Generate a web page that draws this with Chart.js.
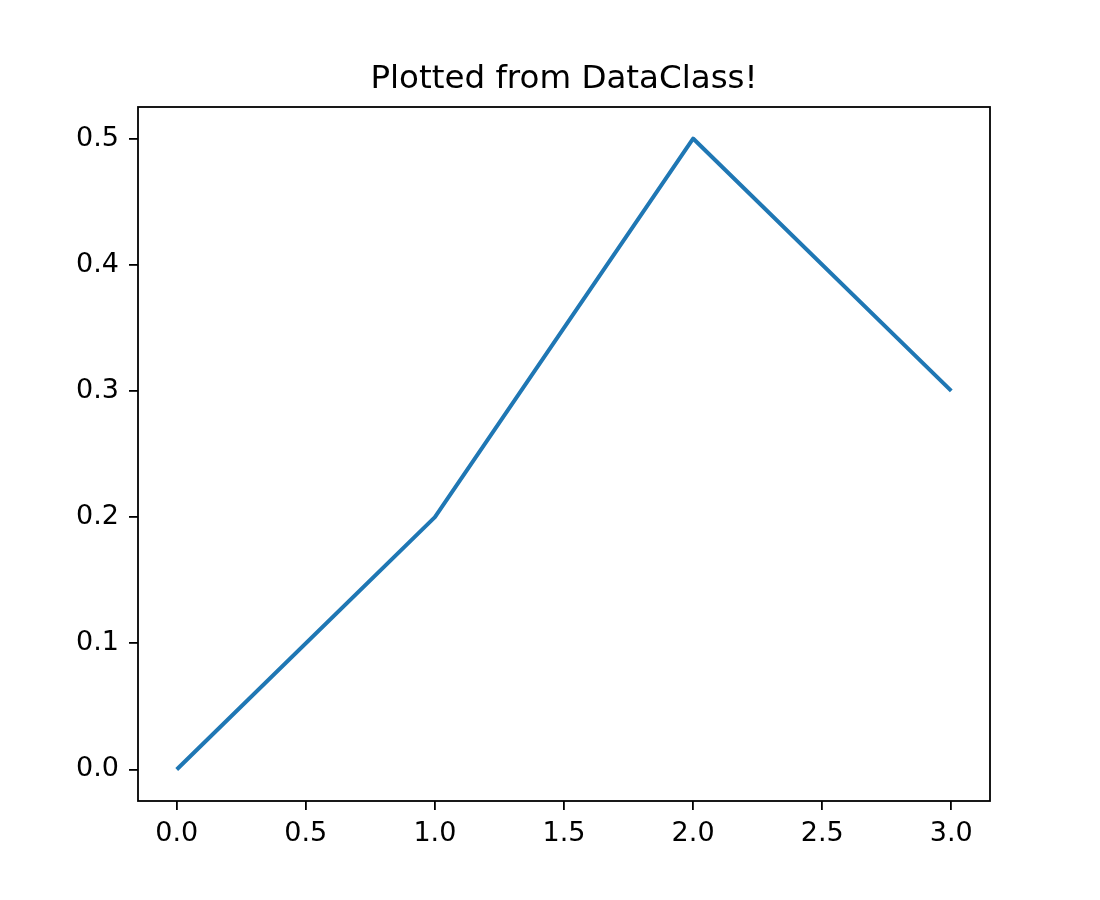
<!DOCTYPE html>
<html>
<head>
<meta charset="utf-8">
<script src="https://cdn.jsdelivr.net/npm/chart.js@4"></script>
<style>
  body { margin: 0; background: #fff; }
  #wrap { width: 1100px; height: 900px; }
</style>
</head>
<body>
<div id="wrap"><canvas id="grafico" width="1100" height="900"></canvas></div>
<script>
// valores
const xValues = [0, 1, 2, 3];
const yValues = [0.0, 0.2, 0.5, 0.3];
const xTicks = [0, 0.5, 1, 1.5, 2, 2.5, 3];
const yTicks = [0, 0.1, 0.2, 0.3, 0.4, 0.5];
const titulo = 'Plotted from DataClass!';

const fonte = "'DejaVu Sans', sans-serif";

// moldura em volta da área do gráfico (estilo matplotlib)
const moldura = {
  id: 'moldura',
  afterDraw(chart) {
    const a = chart.chartArea;
    const c = chart.ctx;
    c.save();
    c.strokeStyle = '#000';
    c.lineWidth = 1.8;
    c.strokeRect(a.left, a.top, a.right - a.left, a.bottom - a.top);
    c.restore();
  }
};

const ctx = document.getElementById('grafico').getContext('2d');
const config = {
  type: 'line',
  data: {
    datasets: [{
      data: xValues.map((x, i) => ({ x: x, y: yValues[i] })),
      borderColor: '#1f77b4',
      borderWidth: 4,
      borderJoinStyle: 'round',
      pointRadius: 0,
      tension: 0,
      fill: false
    }]
  },
  options: {
    responsive: false,
    animation: false,
    devicePixelRatio: 1,
    layout: { padding: { left: 38, right: 10, top: 0, bottom: 39 } },
    plugins: {
      legend: { display: false },
      tooltip: { enabled: false },
      title: {
        display: true,
        text: titulo,
        color: '#000',
        font: { family: fonte, size: 32.5, weight: 'normal', lineHeight: 1.2 },
        padding: { top: 60, bottom: 8 }
      }
    },
    scales: {
      x: {
        type: 'linear',
        min: -0.15,
        max: 3.15,
        afterBuildTicks: axis => { axis.ticks = xTicks.map(v => ({ value: v })); },
        afterFit: scale => { scale.height = 60; },
        border: { display: false },
        grid: { drawOnChartArea: false, drawTicks: true, tickLength: 9, color: '#000', lineWidth: 1.8 },
        ticks: {
          color: '#000',
          padding: 8,
          maxRotation: 0,
          font: { family: fonte, size: 27 },
          callback: v => Number(v).toFixed(1)
        }
      },
      y: {
        type: 'linear',
        min: -0.025,
        max: 0.525,
        afterBuildTicks: axis => { axis.ticks = yTicks.map(v => ({ value: v })); },
        afterFit: scale => { scale.width = 100; },
        border: { display: false },
        grid: { drawOnChartArea: false, drawTicks: true, tickLength: 9, color: '#000', lineWidth: 1.8 },
        ticks: {
          color: '#000',
          padding: 10,
          font: { family: fonte, size: 27 },
          callback: v => Number(v).toFixed(1)
        }
      },
      // eixo vazio à direita só para o título ficar centrado sobre a área
      yVazio: {
        type: 'linear',
        position: 'right',
        afterFit: scale => { scale.width = 100; },
        border: { display: false },
        grid: { display: false },
        ticks: { display: false }
      }
    }
  },
  plugins: [moldura]
};
const grafico = new Chart(ctx, config);
</script>
</body>
</html>
